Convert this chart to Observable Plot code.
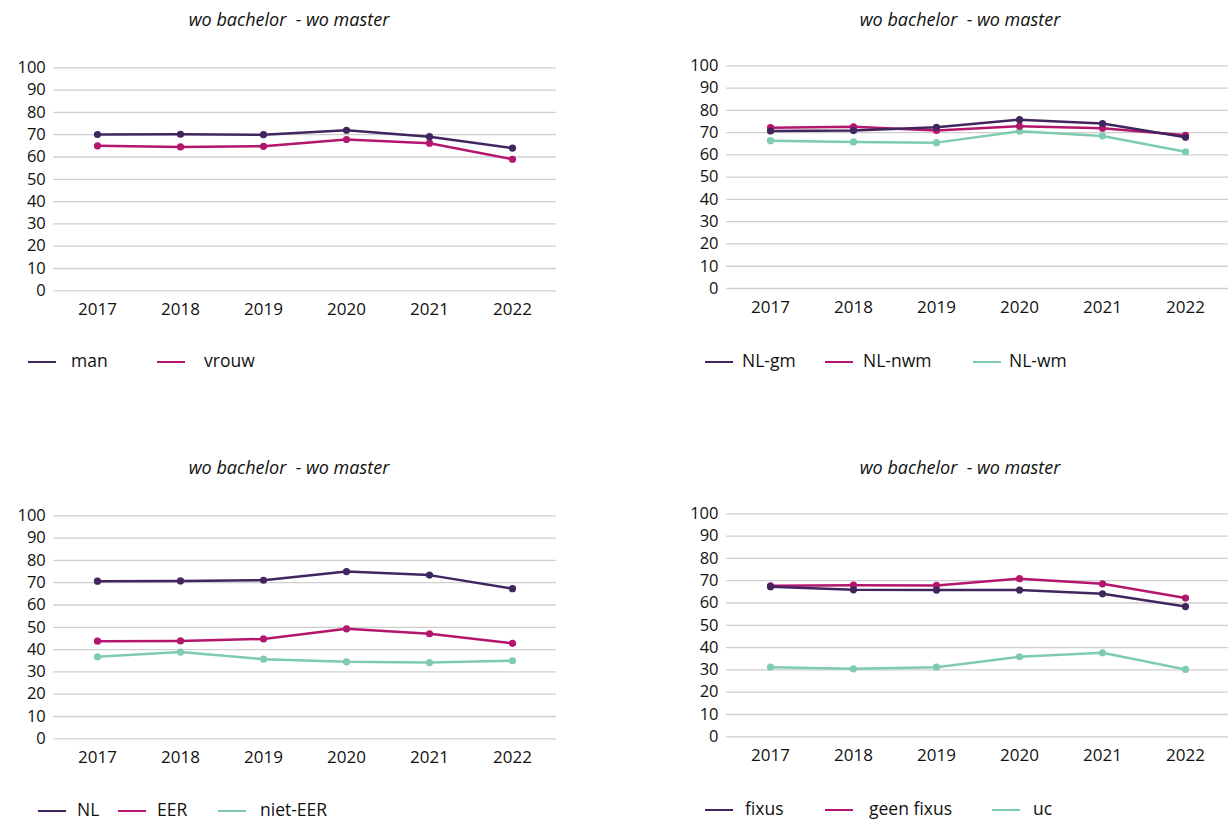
<!DOCTYPE html>
<html>
<head>
<meta charset="utf-8">
<script src="https://cdn.jsdelivr.net/npm/d3@7"></script>
<script src="https://cdn.jsdelivr.net/npm/@observablehq/plot@0.6"></script>
<style>
  html, body { margin: 0; padding: 0; background: #fff; }
  #root { position: relative; width: 1229px; height: 821px; overflow: hidden; font-family: "Open Sans", sans-serif; color: #111; }
  .panel { position: absolute; }
  .title { position: absolute; font-family: "Open Sans", sans-serif; font-style: italic; font-size: 18px; white-space: pre; color: #111; transform: translateX(-50%); line-height: 1; }
  .sw { position: absolute; height: 2.5px; }
  .lt { position: absolute; font-size: 17.5px; line-height: 1; transform: translateY(-55%); white-space: pre; color: #111; }
</style>
</head>
<body>
<div id="root"></div>
<script>
// ---- data ----
const years = [2017, 2018, 2019, 2020, 2021, 2022];
const yTicks = [0, 10, 20, 30, 40, 50, 60, 70, 80, 90, 100];
const titleText = "wo bachelor  - wo master";

const man = [70.1, 70.2, 70.0, 72.0, 69.1, 64.0];
const vrouw = [65.0, 64.5, 64.8, 67.8, 66.2, 59.0];

const nlGm = [70.7, 70.9, 72.4, 75.8, 74.1, 67.9];
const nlNwm = [72.2, 72.6, 71.0, 72.9, 72.0, 68.8];
const nlWm = [66.4, 65.8, 65.5, 70.6, 68.5, 61.4];

const nl = [70.7, 70.8, 71.1, 75.0, 73.4, 67.3];
const eer = [43.8, 43.9, 44.8, 49.3, 47.1, 42.8];
const nietEer = [36.8, 38.9, 35.7, 34.5, 34.2, 35.0];

const fixus = [67.3, 65.9, 65.8, 65.8, 64.1, 58.4];
const geenFixus = [67.7, 68.0, 67.9, 70.9, 68.6, 62.2];
const uc = [31.2, 30.5, 31.2, 35.9, 37.7, 30.2];

const DARK = "#41255f", MAG = "#b3166c", TEAL = "#7fcbb0";

const panels = [
  { left: 0, top: 0, width: 578, height: 330, mL: 53.3, mR: 22, mT: 67.3, mB: 39.7,
    titleX: 289, titleY: 10,
    series: [ {name: "man", values: man, color: DARK}, {name: "vrouw", values: vrouw, color: MAG} ],
    legendY: 362, legend: [[28, 71], [157, 204]] },
  { left: 600, top: 0, width: 629, height: 330, mL: 126, mR: 1, mT: 65.3, mB: 42,
    titleX: 960, titleY: 10,
    series: [ {name: "NL-gm", values: nlGm, color: DARK}, {name: "NL-nwm", values: nlNwm, color: MAG}, {name: "NL-wm", values: nlWm, color: TEAL} ],
    legendY: 362, legend: [[705, 742], [825, 863], [973, 1009]] },
  { left: 0, top: 450, width: 578, height: 330, mL: 53.3, mR: 22, mT: 65.3, mB: 41.7,
    titleX: 289, titleY: 458,
    series: [ {name: "NL", values: nl, color: DARK}, {name: "EER", values: eer, color: MAG}, {name: "niet-EER", values: nietEer, color: TEAL} ],
    legendY: 811, legend: [[38, 77], [118, 157], [218, 260]] },
  { left: 600, top: 450, width: 629, height: 330, mL: 126, mR: 1, mT: 63.3, mB: 43.7,
    titleX: 960, titleY: 458,
    series: [ {name: "fixus", values: fixus, color: DARK}, {name: "geen fixus", values: geenFixus, color: MAG}, {name: "uc", values: uc, color: TEAL} ],
    legendY: 810, legend: [[705, 745], [825, 869], [992, 1033]] }
];

const root = document.getElementById("root");

for (const p of panels) {
  const rows = [];
  p.series.forEach(s => s.values.forEach((v, i) => rows.push({ year: years[i], value: v, name: s.name, color: s.color })));
  const drawOrder = [...p.series].reverse();
  const marks = [
    Plot.gridY(yTicks, { stroke: "#cfcfcf", strokeOpacity: 1, strokeWidth: 1.3 }),
    Plot.axisY(yTicks, { tickSize: 0, tickPadding: 8, fontSize: 16.5, label: null, fill: "#111" }),
    Plot.axisX(years, { tickSize: 0, tickPadding: 12, fontSize: 17, label: null, fill: "#111", tickFormat: d => String(d) })
  ];
  for (const s of drawOrder) {
    const d = rows.filter(r => r.name === s.name);
    marks.push(Plot.line(d, { x: "year", y: "value", stroke: s.color, strokeWidth: 2.5 }));
    marks.push(Plot.dot(d, { x: "year", y: "value", fill: s.color, r: 3.6 }));
  }
  const chart = Plot.plot({
    width: p.width, height: p.height,
    marginLeft: p.mL, marginRight: p.mR, marginTop: p.mT, marginBottom: p.mB,
    x: { type: "point", domain: years, padding: 0.5, axis: null },
    y: { domain: [0, 100], axis: null },
    style: { fontFamily: "Open Sans, sans-serif", background: "transparent", overflow: "visible" },
    marks
  });
  const wrap = document.createElement("div");
  wrap.className = "panel";
  wrap.style.left = p.left + "px";
  wrap.style.top = p.top + "px";
  wrap.appendChild(chart);
  root.appendChild(wrap);

  const t = document.createElement("div");
  t.className = "title";
  t.textContent = titleText;
  t.style.left = p.titleX + "px";
  t.style.top = p.titleY + "px";
  root.appendChild(t);

  p.series.forEach((s, i) => {
    const [lx, tx] = p.legend[i];
    const sw = document.createElement("div");
    sw.className = "sw";
    sw.style.left = lx + "px";
    sw.style.width = "28px";
    sw.style.top = (p.legendY - 1.25) + "px";
    sw.style.background = s.color;
    root.appendChild(sw);
    const lt = document.createElement("div");
    lt.className = "lt";
    lt.textContent = s.name;
    lt.style.left = tx + "px";
    lt.style.top = p.legendY + "px";
    root.appendChild(lt);
  });
}
</script>
</body>
</html>
